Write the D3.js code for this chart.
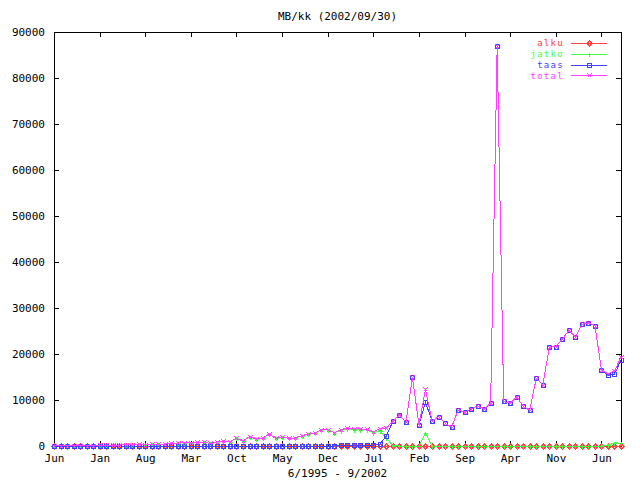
<!DOCTYPE html>
<html><head><meta charset="utf-8">
<script src="https://cdn.jsdelivr.net/npm/d3@7"></script>
<style>
html,body{margin:0;padding:0;background:#fff;}
svg{display:block;font-family:"DejaVu Sans Mono","Liberation Mono",monospace;font-size:11px;}
</style></head><body>
<svg id="c" width="640" height="480"></svg>
<script>
const title = "MB/kk (2002/09/30)";
const xTitle = "6/1995 - 9/2002";
const seriesNames = ["alku", "jatko", "taas", "total"];
const seriesColors = ["#ff4040", "#40ff40", "#4040ff", "#ff40ff"];
const tickLabels = ["Jun","Jan","Aug","Mar","Oct","May","Dec","Jul","Feb","Sep","Apr","Nov","Jun"];
const tickMonths = [0,7,14,21,28,35,42,49,56,63,70,77,84];
const yTicks = [0,10000,20000,30000,40000,50000,60000,70000,80000,90000];

// monthly values, 6/1995 .. 9/2002 (88 months)
const alku = [
  0,0,0,0,0,0,0,0,0,0,0,0,0,0,0,0,0,0,0,0,0,0,
  0,0,0,0,0,0,0,0,0,0,0,0,0,0,0,0,0,0,0,0,0,0,
  0,0,0,0,0,0,0,0,0,0,0,0,0,0,0,0,0,0,0,0,0,0,
  0,0,0,0,0,0,0,0,0,0,0,0,0,0,0,0,0,0,0,0,0,0
];
const jatko = [
  20,30,40,40,50,60,80,150,130,140,200,250,280,350,300,330,350,420,600,650,750,600,
  850,800,580,800,1090,940,1670,1090,2030,1520,1740,2610,1670,1890,1670,1740,2250,2540,2760,3480,
  3480,2900,3350,3800,3550,3550,3500,2900,3350,1700,60,0,0,0,0,2800,0,0,0,0,0,0,
  0,0,0,0,0,0,0,0,0,0,0,0,0,0,0,0,0,0,0,0,0,250,700,550
];
const taas = [
  0,0,0,0,0,0,0,0,0,0,0,0,0,0,0,0,0,0,0,0,0,0,
  0,0,0,0,0,0,0,0,0,0,0,0,0,0,0,0,0,0,0,0,0,0,
  150,150,150,150,150,200,400,2170,5380,6800,5150,14900,4570,9500,5440,6380,4930,4060,7830,7320,8040,8770,
  7970,9350,87000,9710,9280,10650,8620,7750,14710,13230,21450,21600,23260,25150,23700,26450,26740,26160,16590,15400,15600,18730
];
const total = [
  20,30,40,40,50,60,80,150,130,140,200,250,280,350,300,330,350,420,600,650,750,600,
  850,800,580,800,1090,940,1670,1090,2030,1520,1740,2610,1670,1890,1670,1740,2250,2540,2760,3480,
  3480,2900,3500,3950,3700,3700,3650,3100,3750,3900,5440,6800,5150,14900,4570,12300,5440,6380,4930,4060,
  7830,7320,8040,8770,7970,9350,87000,9710,9280,10650,8620,7750,14710,13230,21450,21600,23260,25150,23700,26450,26740,26160,
  16590,15650,16300,19280
];
const seriesData = [alku, jatko, taas, total];

const svg = d3.select("#c");
const W = 640, H = 480;
const L = 54, R = 621, T = 32, B = 446;
const n = total.length;
const x = d3.scaleLinear().domain([0, n - 1]).range([L, R]);
const y = d3.scaleLinear().domain([0, 90000]).range([B, T]);

svg.append("rect").attr("width", W).attr("height", H).attr("fill", "#fff");

// axes
const styleAxis = g => {
  g.select(".domain").remove();
  g.selectAll(".tick line").attr("stroke", "#000").attr("shape-rendering", "crispEdges");
  g.selectAll(".tick text").attr("fill", "#000").attr("font-size", 11)
    .attr("font-family", '"DejaVu Sans Mono","Liberation Mono",monospace');
};
svg.append("g").attr("transform", `translate(0,${B})`)
  .call(d3.axisBottom(x).tickValues(tickMonths).tickFormat((d, i) => tickLabels[i])
    .tickSizeInner(-5).tickSizeOuter(0).tickPadding(8)).call(styleAxis);
svg.append("g").attr("transform", `translate(0,${T})`)
  .call(d3.axisTop(x).tickValues(tickMonths).tickFormat("")
    .tickSizeInner(-5).tickSizeOuter(0)).call(styleAxis);
svg.append("g").attr("transform", `translate(${L},0)`)
  .call(d3.axisLeft(y).tickValues(yTicks).tickFormat(d3.format("d"))
    .tickSizeInner(-5).tickSizeOuter(0).tickPadding(9)).call(styleAxis);
svg.append("g").attr("transform", `translate(${R},0)`)
  .call(d3.axisRight(y).tickValues(yTicks).tickFormat("")
    .tickSizeInner(-5).tickSizeOuter(0)).call(styleAxis);

// frame
svg.append("rect").attr("x", L + 0.5).attr("y", T + 0.5)
  .attr("width", R - L).attr("height", B - T)
  .attr("fill", "none").attr("stroke", "#000").attr("shape-rendering", "crispEdges");

// markers
const h = 2;
function marker(k, px, py) {
  const cx = Math.round(px) + 0.5, cy = Math.round(py) + 0.5;
  if (k === 0) return `M${cx - h - 0.5},${cy}L${cx},${cy - h - 0.5}L${cx + h + 0.5},${cy}L${cx},${cy + h + 0.5}Z`;
  if (k === 1) return `M${cx - h},${cy}H${cx + h}M${cx},${cy - h}V${cy + h}`;
  if (k === 2) return `M${cx - h},${cy - h}H${cx + h}V${cy + h}H${cx - h}Z`;
  return `M${cx - h},${cy - h}L${cx + h},${cy + h}M${cx - h},${cy + h}L${cx + h},${cy - h}`;
}

const line = d3.line().x((d, i) => x(i)).y(d => y(d));
seriesData.forEach((data, k) => {
  const g = svg.append("g");
  g.append("path").attr("d", line(data)).attr("fill", "none")
    .attr("stroke", seriesColors[k]).attr("stroke-width", 1)
    .attr("shape-rendering", "crispEdges");
  g.append("path").attr("d", data.map((d, i) => marker(k, x(i), y(d))).join(""))
    .attr("fill", "none").attr("stroke", seriesColors[k]).attr("stroke-width", 1)
    .attr("shape-rendering", "crispEdges");
});

// legend
seriesNames.forEach((name, k) => {
  const ly = 43 + k * 10.8;
  svg.append("text").attr("x", 564).attr("y", ly).attr("dy", "0.35em")
    .attr("text-anchor", "end").attr("fill", seriesColors[k])
    .attr("font-size", 9).attr("letter-spacing", 1.3).text(name);
  svg.append("line").attr("x1", 571).attr("x2", 607).attr("y1", Math.round(ly) + 0.5).attr("y2", Math.round(ly) + 0.5)
    .attr("stroke", seriesColors[k]).attr("shape-rendering", "crispEdges");
  svg.append("path").attr("d", marker(k, 589, ly)).attr("fill", "none")
    .attr("stroke", seriesColors[k]).attr("shape-rendering", "crispEdges");
});

// titles
svg.append("text").attr("x", (L + R) / 2).attr("y", 20).attr("text-anchor", "middle")
  .attr("fill", "#000").text(title);
svg.append("text").attr("x", (L + R) / 2).attr("y", 477).attr("text-anchor", "middle")
  .attr("fill", "#000").text(xTitle);
</script>
</body></html>
